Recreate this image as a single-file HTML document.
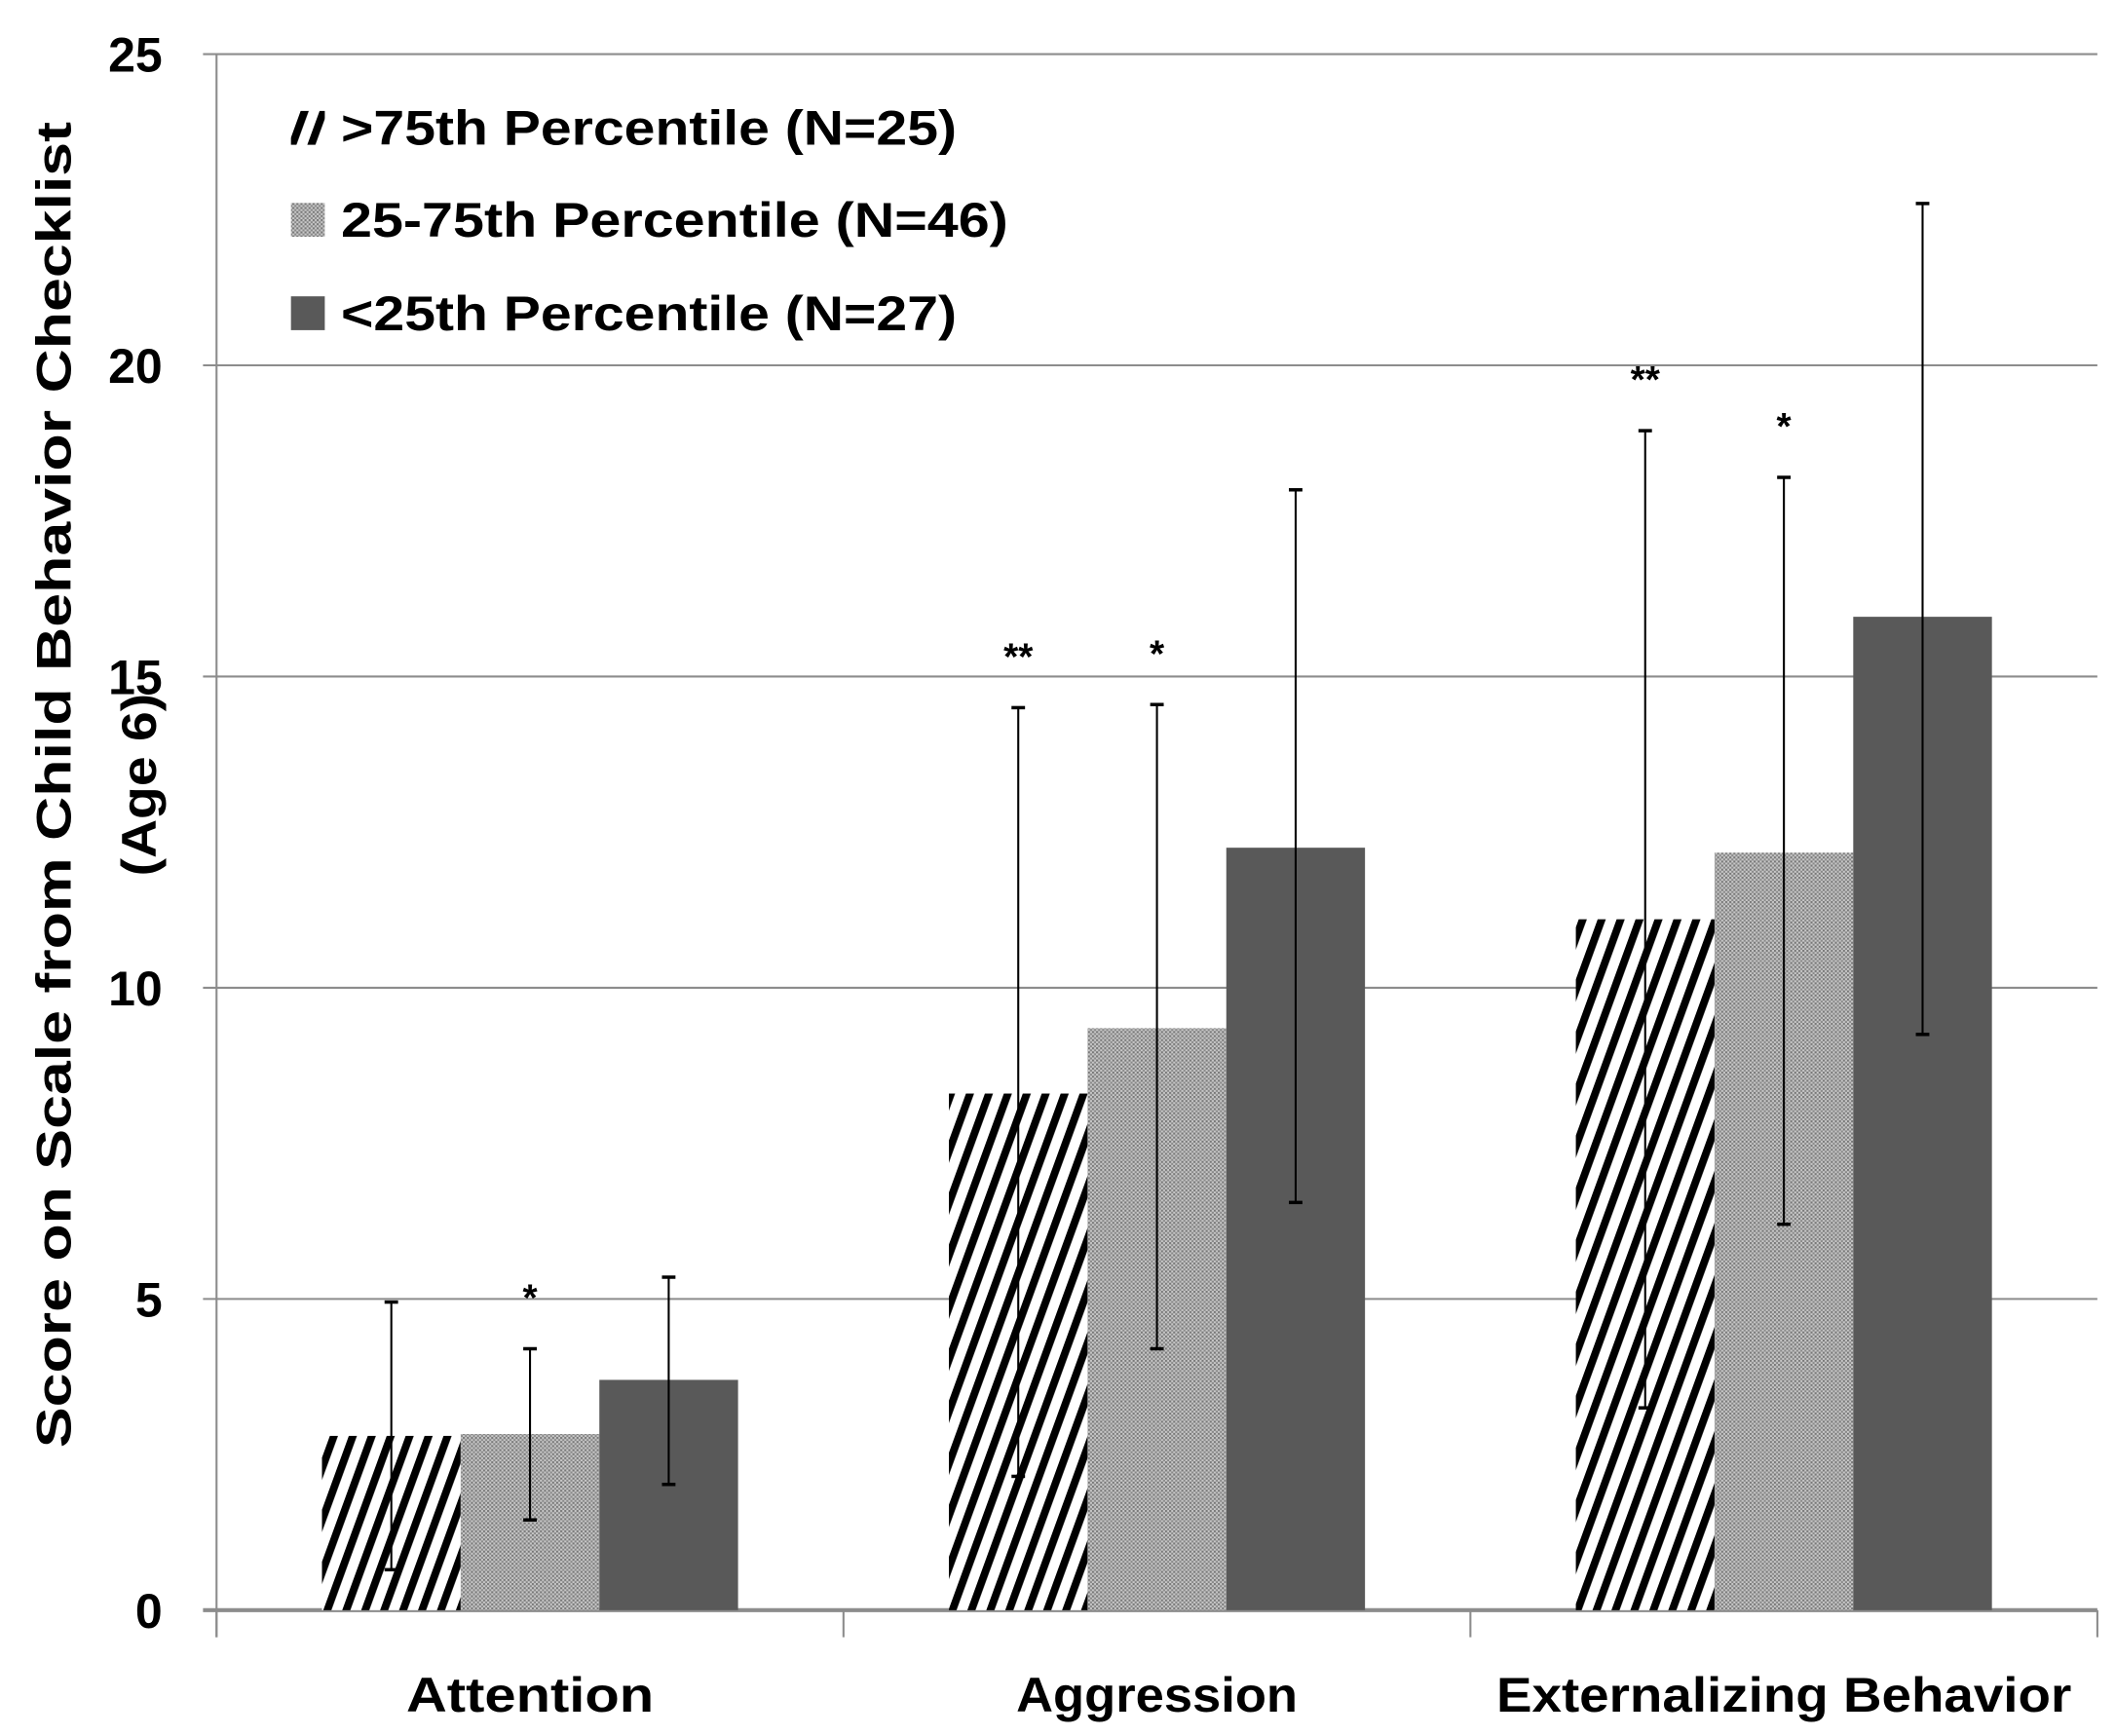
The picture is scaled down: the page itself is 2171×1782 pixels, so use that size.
<!DOCTYPE html>
<html><head><meta charset="utf-8"><style>
html,body{margin:0;padding:0;background:#fff;}
svg{display:block;}
text{font-family:"Liberation Sans",sans-serif;font-weight:bold;fill:#000;}
</style></head><body>
<svg id="chart" width="2171" height="1782" viewBox="0 0 1563 1283" xmlns="http://www.w3.org/2000/svg">
<defs>
<pattern id="stripes" patternUnits="userSpaceOnUse" width="14" height="40" patternTransform="skewX(-20)">
<rect width="14" height="40" fill="#fff"/><rect x="0" width="6" height="40" fill="#000"/>
</pattern>
<pattern id="dots" patternUnits="userSpaceOnUse" width="3" height="3">
<rect width="3" height="3" fill="#c8c8c8"/><rect width="1.5" height="1.5" fill="#777"/><rect x="1.5" y="1.5" width="1.5" height="1.5" fill="#888"/>
</pattern>
</defs>
<g id="grid"></g>
<g id="bars"></g>
<g id="errs"></g>
<g id="labels"></g>
<text transform="translate(52,580) rotate(-90)" text-anchor="middle" font-size="36" textLength="980" lengthAdjust="spacingAndGlyphs">Score on Scale from Child Behavior Checklist</text>
<text transform="translate(115,580) rotate(-90)" text-anchor="middle" font-size="36" textLength="135" lengthAdjust="spacingAndGlyphs">(Age 6)</text>
<g>
<rect x="215" y="82" width="25" height="25" fill="url(#stripes)"/>
<text x="252" y="107" font-size="36" textLength="455" lengthAdjust="spacingAndGlyphs">&gt;75th Percentile (N=25)</text>
<rect x="215" y="150" width="25" height="25" fill="url(#dots)"/>
<text x="252" y="175" font-size="36" textLength="493" lengthAdjust="spacingAndGlyphs">25-75th Percentile (N=46)</text>
<rect x="215" y="219" width="25" height="25" fill="#595959"/>
<text x="252" y="244" font-size="36" textLength="455" lengthAdjust="spacingAndGlyphs">&lt;25th Percentile (N=27)</text>
</g>
</svg>
<script>
const categories = ["Attention", "Aggression", "Externalizing Behavior"];
const highValues = [2.8, 8.3, 11.1];
const midValues = [2.83, 9.35, 12.17];
const lowValues = [3.7, 12.25, 15.96];
const highUpper = [4.95, 14.5, 18.95];
const highLower = [0.65, 2.15, 3.25];
const midUpper = [4.2, 14.55, 18.2];
const midLower = [1.45, 4.2, 6.2];
const lowUpper = [5.35, 18.0, 22.6];
const lowLower = [2.02, 6.55, 9.25];
const stars = [["", "*", ""], ["**", "*", ""], ["**", "*", ""]];
const yTicks = [0, 5, 10, 15, 20, 25];

const NS = "http://www.w3.org/2000/svg";
const plotL = 160, plotR = 1550, y0 = 1190, yTop = 40, yMax = 25;
function yScale(v){ return y0 - (v / yMax) * (y0 - yTop); }
const catW = (plotR - plotL) / categories.length;
const barW = 102.5;
function barX(ci, si){ return plotL + ci * catW + (catW - 3 * barW) / 2 + si * barW; }
function mk(tag, attrs, parent){ const e = document.createElementNS(NS, tag); for (const k in attrs) e.setAttribute(k, attrs[k]); parent.appendChild(e); return e; }

const grid = document.getElementById("grid");
yTicks.forEach(t => {
  const y = yScale(t);
  const ln = mk("line", {x1: plotL - 10, x2: plotR, y1: y, y2: y, stroke: "#8c8c8c", "stroke-width": t === 0 ? 3 : 1.5}, grid);
  
  
  const tx = mk("text", {x: 120, y: y + 13, "text-anchor": "end", "font-size": 36}, grid);
  tx.textContent = t;
  
  
});
const ax = mk("line", {x1: plotL, x2: plotL, y1: yTop, y2: y0 + 20, stroke: "#8c8c8c", "stroke-width": 1.5}, grid);


for (let i = 0; i <= categories.length; i++) {
  const x = plotL + i * catW;
  const tk = mk("line", {x1: x, x2: x, y1: y0, y2: y0 + 20, stroke: "#8c8c8c", "stroke-width": 1.5}, grid);
  
  
}

const series = [
  {vals: highValues, up: highUpper, lo: highLower, fill: "url(#stripes)", name: "high"},
  {vals: midValues, up: midUpper, lo: midLower, fill: "url(#dots)", name: "mid"},
  {vals: lowValues, up: lowUpper, lo: lowLower, fill: "#595959", name: "low"}
];
const bars = document.getElementById("bars"), errs = document.getElementById("errs"), labels = document.getElementById("labels");
categories.forEach((c, ci) => {
  series.forEach((s, si) => {
    const x = barX(ci, si), y = yScale(s.vals[ci]);
    const r = mk("rect", {x: x, y: y, width: barW, height: y0 - y, fill: s.fill}, bars);
    
    
    const cx = x + barW / 2, yu = yScale(s.up[ci]), yl = yScale(s.lo[ci]);
    const g = mk("g", {stroke: "#000", "stroke-width": 1.5}, errs);
    
    
    mk("line", {x1: cx, x2: cx, y1: yu, y2: yl}, g);
    mk("line", {x1: cx - 5, x2: cx + 5, y1: yu, y2: yu, "stroke-width": 2.5}, g);
    mk("line", {x1: cx - 5, x2: cx + 5, y1: yl, y2: yl, "stroke-width": 2.5}, g);
    if (stars[ci][si]) {
      const st = mk("text", {x: cx, y: yu - 28, "text-anchor": "middle", "font-size": 28}, labels);
      st.textContent = stars[ci][si];
      
      
    }
  });
  const lab = mk("text", {x: plotL + (ci + 0.5) * catW, y: 1265, "text-anchor": "middle", "font-size": 36}, labels);
  lab.textContent = c;
  if (ci === 2) { lab.setAttribute("textLength", 425); lab.setAttribute("lengthAdjust", "spacingAndGlyphs"); }
  else if (ci === 0) { lab.setAttribute("textLength", 183); lab.setAttribute("lengthAdjust", "spacingAndGlyphs"); }
  else { lab.setAttribute("textLength", 208); lab.setAttribute("lengthAdjust", "spacingAndGlyphs"); }
  
  
});
</script>
</body></html>
